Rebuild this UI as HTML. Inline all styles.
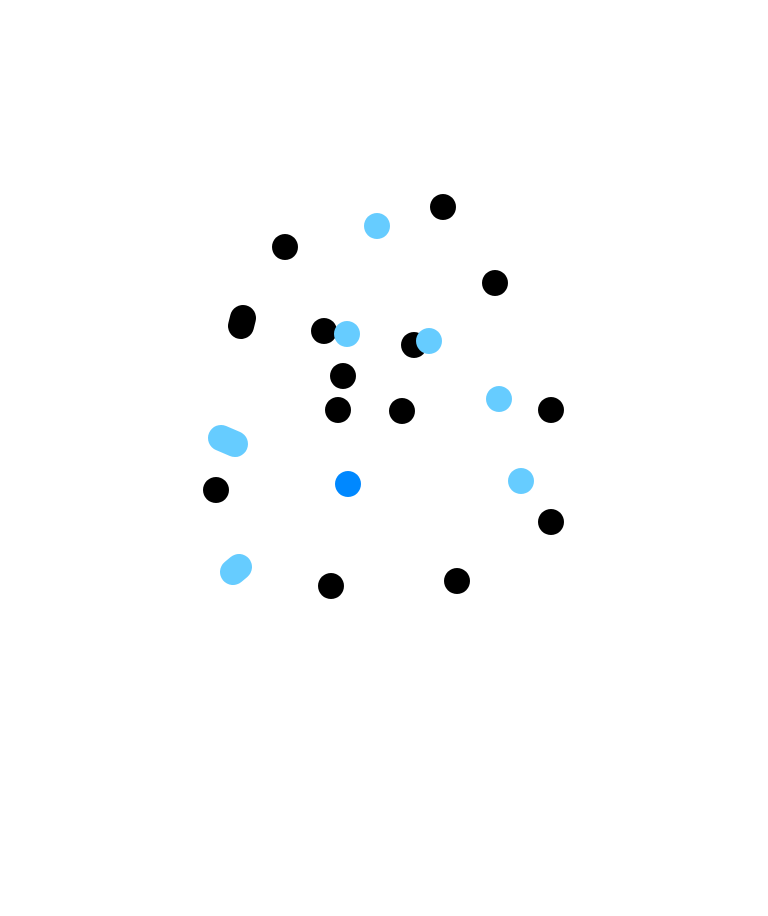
<!DOCTYPE html>
<html><head><style>html,body{margin:0;padding:0;background:#fff;width:768px;height:916px;overflow:hidden}</style></head>
<body>
<svg width="768" height="916" xmlns="http://www.w3.org/2000/svg">
<g fill="#000">
<circle cx="443" cy="207" r="13"/><circle cx="285" cy="247" r="13"/><circle cx="495" cy="283" r="13"/>
<circle cx="324" cy="331" r="13"/>
<circle cx="414" cy="345" r="13"/><circle cx="343" cy="376" r="13"/><circle cx="338" cy="410" r="13"/>
<circle cx="402" cy="411" r="13"/><circle cx="551" cy="410" r="13"/><circle cx="216" cy="490" r="13"/>
<circle cx="551" cy="522" r="13"/><circle cx="331" cy="586" r="13"/><circle cx="457" cy="581" r="13"/>
</g>
<line x1="243" y1="318" x2="241" y2="326" stroke="#000" stroke-width="26" stroke-linecap="round"/>
<g fill="#66ccff">
<circle cx="377" cy="226" r="13"/><circle cx="347" cy="334" r="13"/><circle cx="429" cy="341" r="13"/>
<circle cx="499" cy="399" r="13"/>
<circle cx="521" cy="481" r="13"/>
</g>
<line x1="221" y1="438" x2="235" y2="444" stroke="#66ccff" stroke-width="26" stroke-linecap="round"/>
<line x1="239" y1="567" x2="233" y2="572" stroke="#66ccff" stroke-width="26" stroke-linecap="round"/>
<circle cx="348" cy="484" r="13" fill="#0088ff"/>
</svg>
</body></html>
